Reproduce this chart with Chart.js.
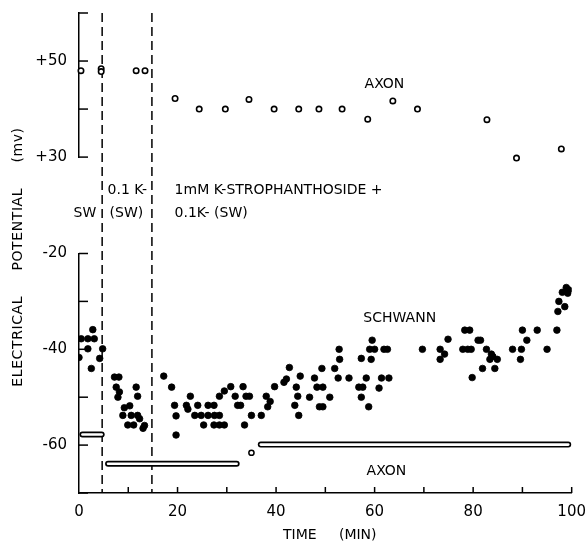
<!DOCTYPE html>
<html>
<head>
<meta charset="utf-8">
<script src="https://cdn.jsdelivr.net/npm/chart.js@4.4.1/dist/chart.umd.min.js"></script>
<style>
  html, body { margin: 0; background: #fff; }
  #wrap { width: 588px; height: 546px; }
</style>
</head>
<body>
<div id="wrap"><canvas id="chart"></canvas></div>
<script>
// Axon potential (upper panel), open circles
const axonTopTime = [0.4, 4.5, 4.5, 11.6, 13.4, 19.5, 24.4, 29.7, 34.5, 39.6, 44.6, 48.7, 53.4, 58.6, 63.7, 68.7, 82.8, 88.8, 97.9]
const axonTopMv   = [48, 48.4, 47.8, 48, 48, 42.2, 40, 40, 42, 40, 40, 40, 40, 37.9, 41.7, 40, 37.8, 29.8, 31.7]

// Schwann cell potential, filled dots
const schwannTime = [
  0.0, 0.45, 1.8, 3.1, 2.8, 1.8, 4.8, 4.2, 2.5,
  7.2, 8.1, 7.55, 8.2, 7.9, 11.6, 11.9, 10.3, 9.2, 8.9, 10.6, 11.9, 12.3, 9.9, 11.1, 13.3, 13.0,
  17.2, 18.8, 19.4, 19.7, 19.7, 21.8, 22.1, 22.6, 24.1, 26.2, 27.4,
  23.5, 24.8, 26.2, 27.5, 28.5, 25.3, 27.4, 28.5, 29.5,
  28.5, 29.5, 30.8, 31.7, 32.2, 32.8, 33.3, 33.9, 34.6, 33.6, 35.0, 37.0,
  38.0, 38.8, 38.3, 39.7, 41.6, 42.1, 42.7, 44.9, 44.1, 44.4, 43.8, 44.6,
  46.8, 47.8, 48.3, 49.5, 48.8, 49.5, 49.3, 50.9, 51.9, 52.8, 52.9, 52.6, 54.8,
  56.8, 57.6, 57.3, 58.8, 57.3, 58.3, 59.3, 59.0, 60.0, 59.5, 60.9, 61.4, 62.9, 61.9, 62.6,
  69.7, 73.3, 74.2, 73.3, 74.9, 78.3, 79.3, 77.9, 78.9, 79.6, 81.0, 81.5, 82.7,
  83.7, 84.0, 83.4, 84.9, 81.9, 84.4, 79.8, 88.0, 89.8, 89.6, 90.0, 90.9, 93.0, 95.0,
  97.0, 97.2, 98.6, 97.4, 98.1, 99.2, 98.9, 99.4
]
const schwannMv = [
  -41.7, -37.8, -37.8, -37.8, -35.9, -39.9, -39.9, -41.9, -44,
  -45.8, -45.8, -47.9, -48.9, -50, -47.9, -49.8, -51.8, -52.2, -53.8, -53.8, -53.8, -54.5, -55.8, -55.8, -55.9, -56.5,
  -45.6, -47.9, -51.7, -53.9, -57.9, -51.7, -52.5, -49.8, -51.7, -51.7, -51.7,
  -53.8, -53.8, -53.8, -53.8, -53.8, -55.8, -55.8, -55.8, -55.8,
  -49.8, -48.7, -47.8, -49.8, -51.7, -51.7, -47.8, -49.8, -49.8, -55.8, -53.8, -53.8,
  -49.8, -50.9, -52, -47.8, -46.9, -46.2, -43.8, -45.6, -47.9, -49.8, -51.7, -53.8,
  -50, -46, -47.9, -47.9, -52, -52, -44, -50, -44, -40, -42.1, -46, -46,
  -47.9, -47.9, -50, -52, -41.9, -46, -42.1, -40, -40, -38.1, -48.1, -46, -46, -40, -40,
  -40, -40, -41, -42.1, -37.9, -36, -36, -40, -40, -40, -38.1, -38.1, -40,
  -41, -41.5, -42.1, -42.1, -44, -44, -45.9, -40, -40, -42.1, -36, -38.1, -36, -40,
  -36, -32.1, -31.1, -30, -28.1, -28.3, -27.1, -27.6
]

// Axon potential (lower panel): continuous records, start / end time and level
const axonBarStart = [0.7, 5.9, 36.9]
const axonBarEnd   = [4.6, 32.0, 99.3]
const axonBarMv    = [-57.8, -63.9, -59.9]
const axonSingleTime = [35.0]
const axonSingleMv   = [-61.6]

// solution changes (dashed lines), min
const solutionChanges = [4.7, 14.8]

// axis tick labels
const topLabels = { 50: '+50', 30: '+30' }
const lowLabels = { '-20': '-20', '-40': '-40', '-60': '-60' }
const xLabels = [0, 20, 40, 60, 80, 100]

// text notes: t in min, v in the units of the named axis
const notes = [
  { text: 'AXON', t: 62, v: 45.2, axis: 'yTop', align: 'center' },
  { text: 'SCHWANN', t: 65.1, v: -33.6, axis: 'yLow', align: 'center' },
  { text: 'AXON', t: 62.4, v: -65.5, axis: 'yLow', align: 'center' },
  { text: '0.1 K-', t: 5.8, v: 6.6, axis: 'yGap', align: 'left' },
  { text: 'SW', t: -1.1, v: 4.2, axis: 'yGap', align: 'left' },
  { text: '(SW)', t: 6.2, v: 4.2, axis: 'yGap', align: 'left' },
  { text: '1mM K-STROPHANTHOSIDE +', t: 19.4, v: 6.6, axis: 'yGap', align: 'left' },
  { text: '0.1K- (SW)', t: 19.4, v: 4.2, axis: 'yGap', align: 'left' }
]

const FONT = "'DejaVu Sans', sans-serif"

const pts = (xs, ys) => xs.map((x, i) => ({ x: x, y: ys[i] }))

const datasets = []
axonBarStart.forEach((s, i) => {
  const seg = [{ x: s, y: axonBarMv[i] }, { x: axonBarEnd[i], y: axonBarMv[i] }]
  datasets.push({ type: 'line', data: seg, yAxisID: 'yLow', borderColor: '#000', borderWidth: 6,
    borderCapStyle: 'round', pointRadius: 0, order: 3 })
  datasets.push({ type: 'line', data: seg, yAxisID: 'yLow', borderColor: '#fff', borderWidth: 2.6,
    borderCapStyle: 'round', pointRadius: 0, order: 2 })
})
datasets.push({ data: pts(axonSingleTime, axonSingleMv), yAxisID: 'yLow', pointRadius: 2.6,
  borderWidth: 1.5, borderColor: '#000', backgroundColor: '#fff', order: 1 })
datasets.push({ data: pts(axonTopTime, axonTopMv), yAxisID: 'yTop', pointRadius: 2.7, clip: false,
  borderWidth: 1.6, borderColor: '#000', backgroundColor: '#fff', order: 1 })
datasets.push({ data: pts(schwannTime, schwannMv), yAxisID: 'yLow', pointRadius: 3.3,
  borderWidth: 0.8, borderColor: '#000', backgroundColor: '#000', order: 0 })

// inward tick marks, dashed lines, notes and the y title
const decor = {
  id: 'decor',
  beforeDatasetsDraw(chart) {
    const { ctx, chartArea, scales } = chart
    ctx.save()
    ctx.strokeStyle = '#000'
    ctx.lineWidth = 1.5
    ctx.setLineDash([9, 5])
    solutionChanges.forEach(t => {
      const px = scales.x.getPixelForValue(t)
      ctx.beginPath()
      ctx.moveTo(px, chartArea.top)
      ctx.lineTo(px, chartArea.bottom)
      ctx.stroke()
    })
    ctx.restore()
  },
  afterDraw(chart) {
    const { ctx, chartArea, scales } = chart
    ctx.save()
    ctx.strokeStyle = '#000'
    ctx.lineWidth = 1.5
    ;['yTop', 'yLow'].forEach(id => {
      const sc = scales[id]
      sc.ticks.forEach(tk => {
        const py = sc.getPixelForValue(tk.value)
        ctx.beginPath()
        ctx.moveTo(chartArea.left, py)
        ctx.lineTo(chartArea.left + 9, py)
        ctx.stroke()
      })
    })
    scales.x.ticks.forEach(tk => {
      if (tk.value === 0) return
      const px = scales.x.getPixelForValue(tk.value)
      ctx.beginPath()
      ctx.moveTo(px, chartArea.bottom)
      ctx.lineTo(px, chartArea.bottom - 6)
      ctx.stroke()
    })

    ctx.fillStyle = '#000'
    ctx.font = '14px ' + FONT
    ctx.textBaseline = 'middle'
    notes.forEach(n => {
      ctx.textAlign = n.align
      ctx.fillText(n.text, scales.x.getPixelForValue(n.t), scales[n.axis].getPixelForValue(n.v))
    })

    ctx.translate(18, (chartArea.top + chartArea.bottom) / 2 + 4)
    ctx.rotate(-Math.PI / 2)
    ctx.textAlign = 'center'
    ctx.font = '14px ' + FONT
    ctx.letterSpacing = '0.6px'
    ctx.fillText('ELECTRICAL     POTENTIAL     (mv)', 0, 0)
    ctx.restore()
  }
}

const yWidth = sc => { sc.width = 79 }
const tickFont = { family: FONT, size: 15 }

// stacked left axes are placed top-down in reverse order of definition
new Chart(document.getElementById('chart'), {
  type: 'scatter',
  data: { datasets: datasets },
  options: {
    responsive: true,
    maintainAspectRatio: false,
    animation: false,
    layout: { padding: { top: 0, right: 16, left: 0, bottom: 0 } },
    plugins: { legend: { display: false }, tooltip: { enabled: false } },
    scales: {
      x: {
        type: 'linear', position: 'bottom', min: 0, max: 100,
        afterFit: sc => { sc.height = 53 },
        grid: { display: false },
        border: { color: '#000', width: 1.5 },
        ticks: {
          stepSize: 10, padding: 2, color: '#000', font: tickFont,
          maxRotation: 0, autoSkip: false,
          callback: v => xLabels.includes(v) ? String(v) : ''
        },
        title: { display: true, text: '  TIME     (MIN)', color: '#000', font: { family: FONT, size: 14 },
          padding: { top: 4, bottom: 2 } }
      },
      yLow: {
        type: 'linear', position: 'left', stack: 'v', stackWeight: 241, min: -70, max: -20,
        afterFit: yWidth,
        grid: { display: false },
        border: { color: '#000', width: 1.5 },
        ticks: { stepSize: 10, padding: 4, color: '#000', font: tickFont,
          callback: v => lowLabels[v] || '' }
      },
      yGap: {
        type: 'linear', position: 'left', stack: 'v', stackWeight: 97, min: 0, max: 10,
        afterFit: yWidth,
        grid: { display: false },
        border: { display: false },
        ticks: { display: false }
      },
      yTop: {
        type: 'linear', position: 'left', stack: 'v', stackWeight: 145, min: 30, max: 60,
        afterFit: yWidth,
        grid: { display: false },
        border: { color: '#000', width: 1.5 },
        ticks: { stepSize: 10, padding: 4, color: '#000', font: tickFont,
          callback: v => topLabels[v] || '' }
      }
    }
  },
  plugins: [decor]
})
</script>
</body>
</html>
